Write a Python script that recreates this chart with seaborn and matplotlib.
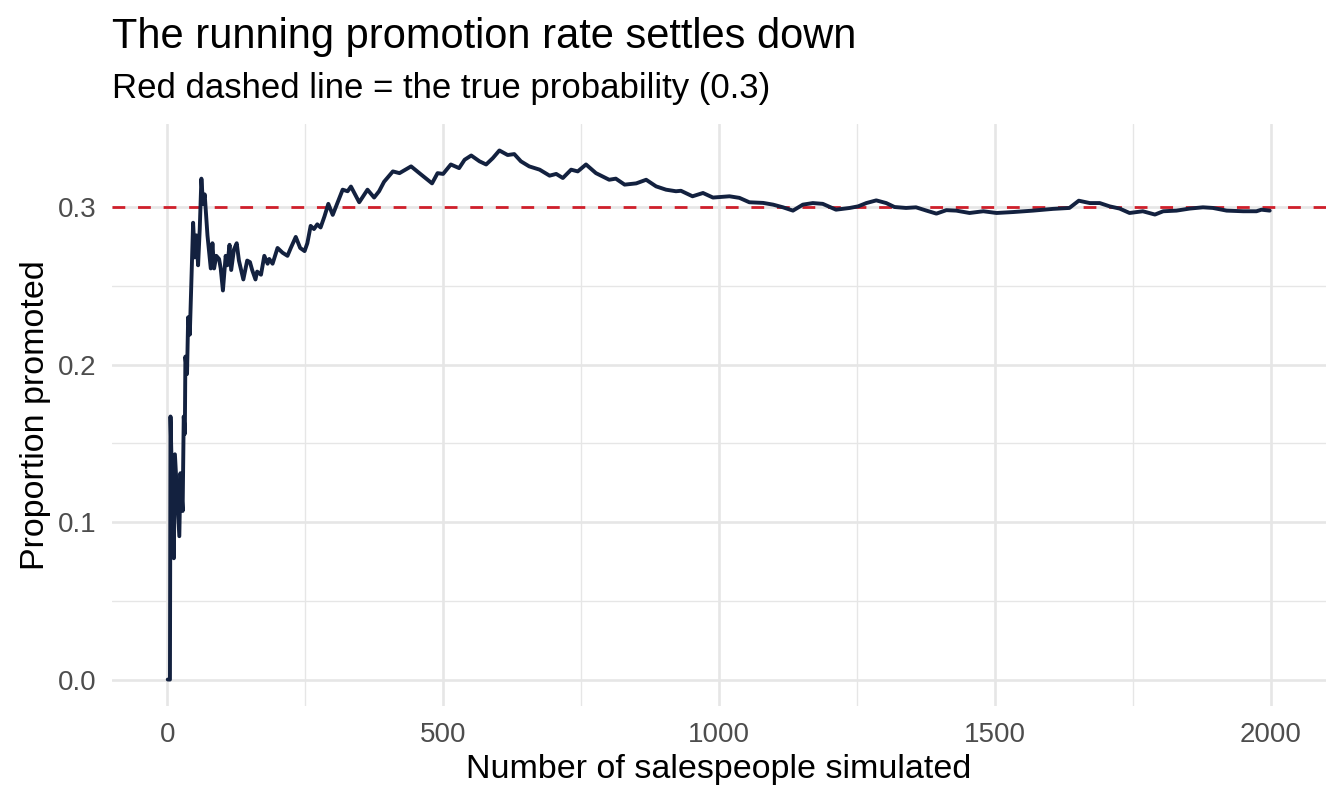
import numpy as np
import matplotlib
matplotlib.use("Agg")
import matplotlib.pyplot as plt
import pandas as pd
import seaborn as sns

# values (running share promoted after n salespeople)
n_sims = [1, 5, 6, 12, 14, 22, 24, 28, 30, 32, 33, 36, 38, 41, 44, 45, 47, 50,
          53, 56, 59, 62, 65, 68, 73, 79, 82, 85, 89, 94, 97, 101, 106, 109,
          113, 116, 121, 126, 130, 138, 145, 150, 154, 160, 163, 170, 176, 182,
          185, 191, 200, 209, 218, 224, 233, 241, 249, 254, 260, 266, 272, 278,
          285, 292, 300, 309, 318, 327, 333, 348, 363, 375, 384, 393, 409, 421,
          442, 457, 480, 490, 500, 514, 529, 539, 551, 566, 578, 590, 602, 617,
          629, 641, 656, 675, 693, 705, 717, 732, 744, 759, 777, 801, 813, 829,
          850, 868, 886, 904, 922, 931, 952, 971, 989, 1019, 1037, 1055, 1080,
          1098, 1116, 1134, 1152, 1170, 1188, 1212, 1237, 1252, 1267, 1285,
          1303, 1318, 1339, 1357, 1376, 1394, 1412, 1430, 1454, 1479, 1503,
          1533, 1569, 1605, 1635, 1652, 1672, 1690, 1708, 1726, 1744, 1768,
          1790, 1805, 1829, 1853, 1877, 1895, 1920, 1950, 1974, 1983, 1998]
running_rate = [0.0, 0.0, 0.167, 0.077, 0.143, 0.091, 0.131, 0.107, 0.167, 0.156,
                0.205, 0.194, 0.230, 0.219, 0.255, 0.266, 0.290, 0.268, 0.282,
                0.263, 0.286, 0.318, 0.302, 0.308, 0.282, 0.261, 0.277, 0.261,
                0.269, 0.267, 0.261, 0.247, 0.269, 0.263, 0.276, 0.260, 0.273,
                0.277, 0.266, 0.254, 0.266, 0.265, 0.260, 0.254, 0.259, 0.257,
                0.269, 0.264, 0.267, 0.264, 0.274, 0.271, 0.269, 0.274, 0.281,
                0.274, 0.272, 0.277, 0.288, 0.286, 0.289, 0.287, 0.294, 0.302,
                0.295, 0.303, 0.311, 0.310, 0.313, 0.303, 0.311, 0.306, 0.310,
                0.316, 0.3226, 0.3215, 0.3258, 0.3215, 0.315, 0.3215, 0.321,
                0.327, 0.3247, 0.330, 0.3327, 0.329, 0.327, 0.331, 0.3359, 0.333,
                0.3336, 0.329, 0.3258, 0.3237, 0.3199, 0.321, 0.3184, 0.3237,
                0.3226, 0.327, 0.3215, 0.3173, 0.318, 0.3142, 0.315, 0.3173,
                0.3131, 0.311, 0.310, 0.3103, 0.3068, 0.3089, 0.306, 0.3068,
                0.3058, 0.303, 0.3026, 0.3015, 0.2998, 0.2977, 0.3015, 0.3025,
                0.302, 0.2983, 0.2994, 0.3004, 0.3025, 0.3042, 0.3025, 0.300,
                0.2994, 0.2998, 0.2977, 0.2958, 0.298, 0.2977, 0.2962, 0.2973,
                0.2962, 0.2968, 0.2977, 0.2988, 0.2994, 0.304, 0.3025, 0.3025,
                0.3004, 0.299, 0.2962, 0.2973, 0.2952, 0.2973, 0.2977, 0.299,
                0.2998, 0.2994, 0.2977, 0.2973, 0.2973, 0.2983, 0.2977]
true_p = 0.3

x_ticks = [0, 500, 1000, 1500, 2000]
x_minor = [250, 750, 1250, 1750]
y_ticks = [0.0, 0.1, 0.2, 0.3]
y_minor = [0.05, 0.15, 0.25]

sns.set_theme(style="white")
plt.rcParams['font.family'] = ['Liberation Sans', 'DejaVu Sans']
plt.rcParams['text.color'] = 'black'

df = pd.DataFrame({'n': n_sims, 'rate': running_rate})

fig = plt.figure(figsize=(13.44, 8.06), dpi=100)
ax = fig.add_axes([112/1344, 1 - 706/806, (1326 - 112)/1344, (706 - 124)/806])

grid = '#e6e6e6'
for v in x_ticks:
    ax.axvline(v, color=grid, lw=1.9, zorder=0)
for v in x_minor:
    ax.axvline(v, color=grid, lw=1.0, zorder=0)
for v in y_ticks:
    ax.axhline(v, color=grid, lw=1.9, zorder=0)
for v in y_minor:
    ax.axhline(v, color=grid, lw=1.0, zorder=0)

ax.axhline(true_p, color='#d01f2b', lw=2.0, dashes=(4.6, 4.6), zorder=2)
sns.lineplot(data=df, x='n', y='rate', color='#13213f', lw=2.8, ax=ax, zorder=3)

ax.margins(x=0.05, y=0.05)
ax.set_xticks(x_ticks)
ax.set_xticklabels([str(t) for t in x_ticks])
ax.set_yticks(y_ticks)
ax.set_yticklabels([f'{t:.1f}' for t in y_ticks])
ax.tick_params(length=0, pad=11.5, labelsize=20, labelcolor='#4d4d4d')
for s in ax.spines.values():
    s.set_visible(False)

ax.set_xlabel('Number of salespeople simulated', fontsize=24.5, color='black')
ax.set_ylabel('Proportion promoted', fontsize=24.5, color='black')
ax.xaxis.set_label_coords(0.5, -0.082)
ax.yaxis.set_label_coords(-0.050, 0.5)

fig.text(112/1344, 1 - 48/806, 'The running promotion rate settles down',
         fontsize=30, va='baseline', ha='left', color='black')
fig.text(112/1344, 1 - 98/806, 'Red dashed line = the true probability (0.3)',
         fontsize=25, va='baseline', ha='left', color='black')

plt.savefig('out.png', dpi=100, facecolor='white')
